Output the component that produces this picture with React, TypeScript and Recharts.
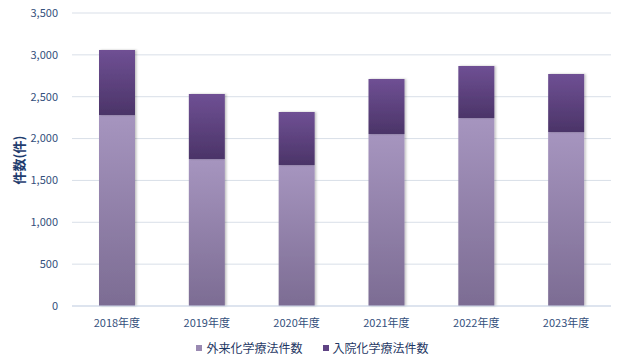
import { Bar, BarChart, CartesianGrid, Legend, XAxis, YAxis } from "recharts"

const years = ["2018年度", "2019年度", "2020年度", "2021年度", "2022年度", "2023年度"]
const outpatient = [2282, 1756, 1684, 2055, 2246, 2079]
const inpatient = [776, 777, 634, 657, 621, 692]
const yTicks = [0, 500, 1000, 1500, 2000, 2500, 3000, 3500]

const seriesNames = { outpatient: "外来化学療法件数", inpatient: "入院化学療法件数" }

const data = years.map((year, i) => ({
  year,
  outpatient: outpatient[i],
  inpatient: inpatient[i],
}))

const FONT = '"Noto Sans CJK JP", "Noto Sans", sans-serif'
const TEXT = "#34507c"

function LegendBox() {
  const items = [
    { name: seriesNames.outpatient, color: "#9a8ab2" },
    { name: seriesNames.inpatient, color: "#5f4384" },
  ]
  return (
    <div
      style={{
        display: "flex",
        justifyContent: "center",
        gap: 20,
        height: 20,
        lineHeight: "20px",
        paddingLeft: 14,
        fontFamily: FONT,
        fontSize: 12,
        color: "#1f3864",
      }}
    >
      {items.map((it) => (
        <span key={it.name} style={{ display: "flex", alignItems: "center" }}>
          <span style={{ width: 6, height: 6, background: it.color, marginRight: 4, display: "inline-block" }} />
          {it.name}
        </span>
      ))}
    </div>
  )
}

export default function App() {
  return (
    <div style={{ width: 626, height: 363, background: "#fff" }}>
      <style>{"body{margin:0}"}</style>
      <BarChart
        width={626}
        height={363}
        data={data}
        margin={{ top: 13, right: 15, left: 0, bottom: 7 }}
        barSize={36}
      >
        <defs>
          <linearGradient id="gOut" x1="0" y1="0" x2="0" y2="1">
            <stop offset="0%" stopColor="#a695bf" />
            <stop offset="100%" stopColor="#7c6c93" />
          </linearGradient>
          <linearGradient id="gIn" x1="0" y1="0" x2="0" y2="1">
            <stop offset="0%" stopColor="#6f5094" />
            <stop offset="100%" stopColor="#4b3468" />
          </linearGradient>
          <filter id="shadow" x="-20%" y="-5%" width="140%" height="110%">
            <feDropShadow dx="1.5" dy="0" stdDeviation="1.2" floodColor="#000" floodOpacity="0.25" />
          </filter>
        </defs>
        <CartesianGrid vertical={false} stroke="#d9dfe8" />
        <XAxis
          dataKey="year"
          stroke="#cfd9ea"
          tickLine={false}
          tickSize={6}
          tickMargin={7}
          tick={{ fill: TEXT, fontSize: 11, fontFamily: FONT }}
        />
        <YAxis
          width={72}
          domain={[0, 3500]}
          ticks={yTicks}
          axisLine={false}
          tickLine={false}
          tickSize={6}
          tickMargin={8}
          tickFormatter={(v) => v.toLocaleString("en-US")}
          tick={{ fill: TEXT, fontSize: 11, fontFamily: FONT }}
          label={{
            value: "件数(件)",
            angle: -90,
            position: "insideLeft",
            dx: 14,
            dy: 25,
            fill: "#1f3c6e",
            fontSize: 13,
            fontWeight: "bold",
            fontFamily: FONT,
          }}
        />
        <Legend verticalAlign="bottom" content={<LegendBox />} wrapperStyle={{ bottom: 5 }} />
        <Bar
          dataKey="outpatient"
          name={seriesNames.outpatient}
          stackId="a"
          fill="url(#gOut)"
          filter="url(#shadow)"
          isAnimationActive={false}
        />
        <Bar
          dataKey="inpatient"
          name={seriesNames.inpatient}
          stackId="a"
          fill="url(#gIn)"
          filter="url(#shadow)"
          isAnimationActive={false}
        />
      </BarChart>
    </div>
  )
}
